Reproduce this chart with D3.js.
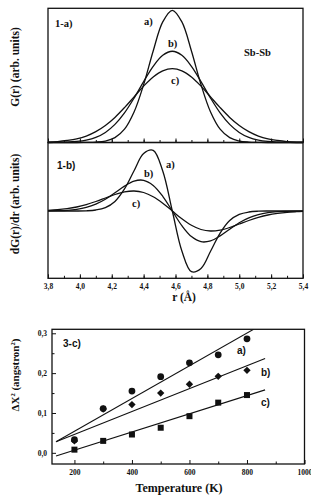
<!DOCTYPE html>
<html>
<head>
<meta charset="utf-8">
<script src="https://cdn.jsdelivr.net/npm/d3@7"></script>
<style>
  body { margin: 0; background: #fff; }
  svg { display: block; }
  text { font-family: "Liberation Serif", "DejaVu Serif", serif; font-weight: bold; fill: #111; }
  .sans { font-family: "Liberation Sans", Arial, sans-serif; }
</style>
</head>
<body>
<div id="chart"></div>
<script>
// r grid (Angstrom)
const rVals = [3.80, 3.86, 3.92, 3.98, 4.04, 4.10, 4.16, 4.22, 4.28, 4.34, 4.40, 4.46, 4.52, 4.58,
               4.64, 4.70, 4.76, 4.82, 4.88, 4.94, 5.00, 5.06, 5.12, 5.18, 5.24, 5.30, 5.36, 5.40];

// G(r), arb. units
const gA = [0, 0, 0, 0, 0.1, 0.3, 1.1, 3.6, 9.9, 22.7, 43.1, 68.2, 89.9, 98.5,
            89.9, 68.2, 43.1, 22.7, 9.9, 3.6, 1.1, 0.3, 0.1, 0, 0, 0, 0, 0];
const gB = [0.0, 0.1, 0.3, 0.8, 1.8, 3.8, 7.5, 13.5, 22.1, 33.1, 45.4, 56.8, 65.0, 68,
            65.0, 56.8, 45.4, 33.1, 22.1, 13.5, 7.5, 3.8, 1.8, 0.8, 0.3, 0.1, 0.0, 0.0];
const gC = [0.3, 0.7, 1.5, 2.7, 4.8, 8.1, 12.7, 18.7, 26.0, 34.0, 42.0, 48.8, 53.4, 55,
            53.4, 48.8, 42.0, 34.0, 26.0, 18.7, 12.7, 8.1, 4.8, 2.7, 1.5, 0.7, 0.3, 0.2];

// dG(r)/dr, arb. units
const dA = [0, 0, 0, 0, 0.2, 1.0, 3.4, 9.6, 22.1, 40.3, 57.5, 60.7, 40.0, 0,
            -40.0, -60.7, -57.5, -40.3, -22.1, -9.6, -3.4, -1.0, -0.2, 0, 0, 0, 0, 0];
const dB = [0.1, 0.3, 0.7, 1.7, 3.6, 6.9, 11.8, 18.2, 24.9, 29.9, 30.7, 25.6, 14.7, 0,
            -14.7, -25.6, -30.7, -29.9, -24.9, -18.2, -11.8, -6.9, -3.6, -1.7, -0.7, -0.3, -0.1, -0.05];
const dC = [0.7, 1.3, 2.4, 4.0, 6.4, 9.5, 13.0, 16.5, 19.1, 20.0, 18.5, 14.3, 7.8, 0,
            -7.8, -14.3, -18.5, -20.0, -19.1, -16.5, -13.0, -9.5, -6.4, -4.0, -2.4, -1.3, -0.7, -0.4];

// bottom panel: mean square displacement vs temperature
const temps = [200, 300, 400, 500, 600, 700, 800];
const msdA = [0.033, 0.111, 0.155, 0.191, 0.226, 0.246, 0.286];
const msdB = [0.030, 0.110, 0.121, 0.150, 0.172, 0.192, 0.207];
const msdC = [0.008, 0.030, 0.046, 0.063, 0.092, 0.126, 0.145];
// fitted lines, [T, value] end points
const fitA = [[136, 0.028], [823, 0.31]];
const fitB = [[136, 0.028], [863, 0.237]];
const fitC = [[136, -0.008], [863, 0.158]];

const rTicks = [3.8, 4.0, 4.2, 4.4, 4.6, 4.8, 5.0, 5.2, 5.4];
const tTicks = [200, 400, 600, 800, 1000];
const msdTicks = [0.0, 0.1, 0.2, 0.3];

const W = 311, H = 495;
const svg = d3.select("#chart").append("svg").attr("width", W).attr("height", H);
const comma = d => d3.format(".1f")(d).replace(".", ",");

// ---- shared r scale
const x = d3.scaleLinear().domain([3.8, 5.4]).range([48, 303]);

function box(x0, y0, x1, y1) {
  svg.append("rect").attr("x", x0).attr("y", y0).attr("width", x1 - x0).attr("height", y1 - y0)
    .attr("fill", "none").attr("stroke", "#111").attr("stroke-width", 1.3);
}

function inwardAxis(g, scale, major, minor, labels) {
  g.call(d3.axisBottom(scale).tickValues(minor).tickSize(-2.5).tickFormat(""));
  const gm = g.append("g").call(d3.axisBottom(scale).tickValues(major).tickSize(-4)
    .tickPadding(5.5).tickFormat(labels ? labels : ""));
  g.selectAll(".domain").remove();
  g.selectAll("line").attr("stroke", "#111").attr("stroke-width", 1);
  gm.selectAll("text").attr("font-size", 7.5).attr("font-family", "Liberation Serif").attr("font-weight", "bold").attr("fill", "#111");
}

const curve = d3.curveCatmullRom.alpha(0.5);

// ---- panel 1-a
const y1 = d3.scaleLinear().domain([0, 100]).range([142.5, 8.3]);
const line1 = arr => d3.line().x((d, i) => x(rVals[i])).y(d => y1(d)).curve(curve)(arr);
[gA, gB, gC].forEach(s => svg.append("path").attr("d", line1(s))
  .attr("fill", "none").attr("stroke", "#111").attr("stroke-width", 1.3));
box(48, 8.3, 303, 142.5);
const minorR = d3.range(39, 54).map(v => v / 10);
inwardAxis(svg.append("g").attr("transform", "translate(0,142.5)"), x, rTicks, minorR, null);

svg.append("text").attr("x", 55).attr("y", 27).attr("font-size", 10.5).text("1-a)");
svg.append("text").attr("x", 144).attr("y", 24.5).attr("font-size", 10.5).text("a)");
svg.append("text").attr("x", 168).attr("y", 46.5).attr("font-size", 10.5).text("b)");
svg.append("text").attr("x", 171).attr("y", 84).attr("font-size", 10.5).text("c)");
svg.append("text").attr("x", 244).attr("y", 56).attr("font-size", 10.5).text("Sb-Sb");
svg.append("text").attr("transform", "translate(19,67) rotate(-90)").attr("text-anchor", "middle")
  .attr("font-size", 11.5).text("G(r) (arb. units)");

// ---- panel 1-b
const y2 = d3.scaleLinear().domain([-67.3, 68.5]).range([278.3, 142.5]);
const line2 = arr => d3.line().x((d, i) => x(rVals[i])).y(d => y2(d)).curve(curve)(arr);
[dA, dB, dC].forEach(s => svg.append("path").attr("d", line2(s))
  .attr("fill", "none").attr("stroke", "#111").attr("stroke-width", 1.3));
box(48, 142.5, 303, 278.3);
inwardAxis(svg.append("g").attr("transform", "translate(0,278.3)"), x, rTicks, minorR, comma);

svg.append("text").attr("class", "sans").attr("x", 57).attr("y", 169).attr("font-size", 10).text("1-b)");
svg.append("text").attr("x", 166).attr("y", 168).attr("font-size", 10.5).text("a)");
svg.append("text").attr("x", 144).attr("y", 177).attr("font-size", 10.5).text("b)");
svg.append("text").attr("x", 132).attr("y", 207).attr("font-size", 10.5).text("c)");
svg.append("text").attr("transform", "translate(19,204) rotate(-90)").attr("text-anchor", "middle")
  .attr("font-size", 11.5).text("dG(r)/dr (arb. units)");
svg.append("text").attr("x", 184).attr("y", 301).attr("text-anchor", "middle").attr("font-size", 11.5).text("r (Å)");

// ---- panel 3-c
const xT = d3.scaleLinear().domain([122, 1000]).range([52, 304.5]);
const yM = d3.scaleLinear().domain([-0.028, 0.31]).range([464, 329.3]);
svg.append("defs").append("clipPath").attr("id", "clip3").append("rect")
  .attr("x", 52).attr("y", 329.3).attr("width", 252.5).attr("height", 134.7);

const fitLine = d3.line().x(d => xT(d[0])).y(d => yM(d[1]));
[fitA, fitB, fitC].forEach(f => svg.append("path").attr("d", fitLine(f))
  .attr("clip-path", "url(#clip3)").attr("fill", "none").attr("stroke", "#111").attr("stroke-width", 1.1));

const pts = svg.append("g").attr("fill", "#111");
pts.selectAll(".pa").data(temps).join("circle").attr("cx", d => xT(d))
  .attr("cy", (d, i) => yM(msdA[i])).attr("r", 3.4);
pts.selectAll(".pb").data(temps).join("rect").attr("x", -2.6).attr("y", -2.6)
  .attr("width", 5.2).attr("height", 5.2)
  .attr("transform", (d, i) => `translate(${xT(d)},${yM(msdB[i])}) rotate(45)`);
pts.selectAll(".pc").data(temps).join("rect").attr("x", d => xT(d) - 3)
  .attr("y", (d, i) => yM(msdC[i]) - 3).attr("width", 6).attr("height", 6);

box(52, 329.3, 304.5, 464);
const gx3 = svg.append("g").attr("transform", "translate(0,464)");
inwardAxis(gx3, xT, tTicks, [300, 500, 700, 900], d => d);

const gy3 = svg.append("g").attr("transform", "translate(52,0)");
gy3.call(d3.axisLeft(yM).tickValues([0.05, 0.15, 0.25]).tickSize(-2.5).tickFormat(""));
const gy3m = gy3.append("g").call(d3.axisLeft(yM).tickValues(msdTicks).tickSize(-4).tickPadding(5).tickFormat(comma));
gy3.selectAll(".domain").remove();
gy3.selectAll("line").attr("stroke", "#111");
gy3m.selectAll("text").attr("font-size", 7.5).attr("font-family", "Liberation Serif").attr("font-weight", "bold").attr("fill", "#111");

svg.append("text").attr("class", "sans").attr("x", 63).attr("y", 347).attr("font-size", 10).text("3-c)");
svg.append("text").attr("class", "sans").attr("x", 237).attr("y", 354).attr("font-size", 10).text("a)");
svg.append("text").attr("class", "sans").attr("x", 261).attr("y", 375.5).attr("font-size", 10).text("b)");
svg.append("text").attr("class", "sans").attr("x", 261).attr("y", 405.5).attr("font-size", 10).text("c)");

const yl = svg.append("text").attr("transform", "translate(19,375) rotate(-90)").attr("text-anchor", "middle")
  .attr("font-size", 11);
yl.append("tspan").text("ΔX");
yl.append("tspan").attr("dy", -4).attr("font-size", 6.5).text("2");
yl.append("tspan").attr("dy", 4).text(" (angstron");
yl.append("tspan").attr("dy", -4).attr("font-size", 6.5).text("2");
yl.append("tspan").attr("dy", 4).text(")");

svg.append("text").attr("x", 179).attr("y", 492).attr("text-anchor", "middle").attr("font-size", 12).text("Temperature (K)");
</script>
</body>
</html>
